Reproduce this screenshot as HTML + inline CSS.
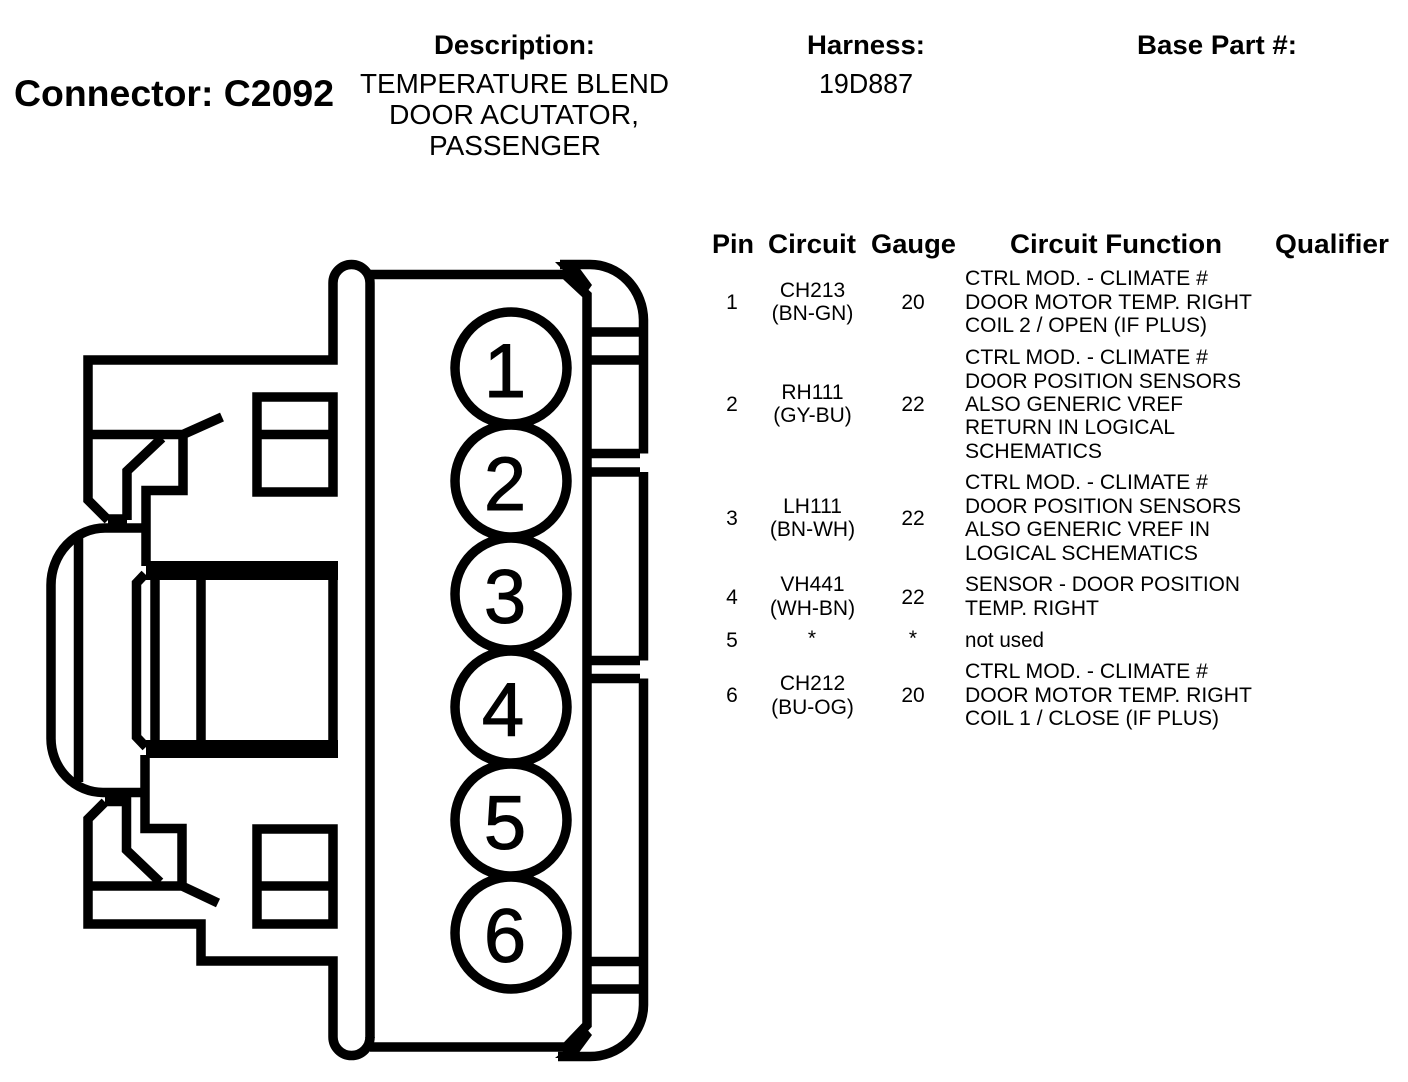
<!DOCTYPE html>
<html><head><meta charset="utf-8"><style>
html,body{margin:0;padding:0;background:#fff}
svg{display:block}
text{font-family:"Liberation Sans",sans-serif;fill:#000}
.h{font-weight:bold;font-size:27px}
.d{font-size:28px}
.t{font-size:21px}
.m{text-anchor:middle}
.n{font-size:76px;text-anchor:middle;stroke:#000;stroke-width:1}
</style></head><body>
<svg width="1408" height="1082" viewBox="0 0 1408 1082" xmlns="http://www.w3.org/2000/svg">
<rect width="1408" height="1082" fill="#fff"/>
<text x="14" y="106" font-size="37" font-weight="bold" textLength="320" lengthAdjust="spacingAndGlyphs">Connector: C2092</text>
<text class="h" x="434" y="54" textLength="161" lengthAdjust="spacingAndGlyphs">Description:</text>
<text class="h" x="807" y="54" textLength="118" lengthAdjust="spacingAndGlyphs">Harness:</text>
<text class="h" x="1137" y="54" textLength="160" lengthAdjust="spacingAndGlyphs">Base Part #:</text>
<text class="d" x="360" y="93" textLength="309" lengthAdjust="spacingAndGlyphs">TEMPERATURE BLEND</text>
<text class="d" x="389" y="124" textLength="250" lengthAdjust="spacingAndGlyphs">DOOR ACUTATOR,</text>
<text class="d" x="429" y="155" textLength="172" lengthAdjust="spacingAndGlyphs">PASSENGER</text>
<text class="d" x="819" y="93" textLength="94" lengthAdjust="spacingAndGlyphs">19D887</text>

<text class="h" x="712" y="253" textLength="42" lengthAdjust="spacingAndGlyphs">Pin</text>
<text class="h" x="768" y="253" textLength="88" lengthAdjust="spacingAndGlyphs">Circuit</text>
<text class="h" x="871" y="253" textLength="85" lengthAdjust="spacingAndGlyphs">Gauge</text>
<text class="h" x="1010" y="253" textLength="212" lengthAdjust="spacingAndGlyphs">Circuit Function</text>
<text class="h" x="1275" y="253" textLength="114" lengthAdjust="spacingAndGlyphs">Qualifier</text>

<text class="t m" x="732" y="309">1</text>
<text class="t m" x="812.500" y="297">CH213</text>
<text class="t m" x="812.500" y="320">(BN-GN)</text>
<text class="t m" x="913" y="309">20</text>
<text class="t" x="965" y="285" textLength="243" lengthAdjust="spacingAndGlyphs">CTRL MOD. - CLIMATE #</text>
<text class="t" x="965" y="309" textLength="287" lengthAdjust="spacingAndGlyphs">DOOR MOTOR TEMP. RIGHT</text>
<text class="t" x="965" y="332" textLength="242" lengthAdjust="spacingAndGlyphs">COIL 2 / OPEN (IF PLUS)</text>

<text class="t m" x="732" y="411">2</text>
<text class="t m" x="812.500" y="399">RH111</text>
<text class="t m" x="812.500" y="422">(GY-BU)</text>
<text class="t m" x="913" y="411">22</text>
<text class="t" x="965" y="364" textLength="243" lengthAdjust="spacingAndGlyphs">CTRL MOD. - CLIMATE #</text>
<text class="t" x="965" y="388" textLength="276" lengthAdjust="spacingAndGlyphs">DOOR POSITION SENSORS</text>
<text class="t" x="965" y="411" textLength="218" lengthAdjust="spacingAndGlyphs">ALSO GENERIC VREF</text>
<text class="t" x="965" y="434" textLength="210" lengthAdjust="spacingAndGlyphs">RETURN IN LOGICAL</text>
<text class="t" x="965" y="458" textLength="137" lengthAdjust="spacingAndGlyphs">SCHEMATICS</text>

<text class="t m" x="732" y="525">3</text>
<text class="t m" x="812.500" y="513">LH111</text>
<text class="t m" x="812.500" y="536">(BN-WH)</text>
<text class="t m" x="913" y="525">22</text>
<text class="t" x="965" y="489" textLength="243" lengthAdjust="spacingAndGlyphs">CTRL MOD. - CLIMATE #</text>
<text class="t" x="965" y="513" textLength="276" lengthAdjust="spacingAndGlyphs">DOOR POSITION SENSORS</text>
<text class="t" x="965" y="536" textLength="245" lengthAdjust="spacingAndGlyphs">ALSO GENERIC VREF IN</text>
<text class="t" x="965" y="560" textLength="233" lengthAdjust="spacingAndGlyphs">LOGICAL SCHEMATICS</text>

<text class="t m" x="732" y="604">4</text>
<text class="t m" x="812.500" y="591">VH441</text>
<text class="t m" x="812.500" y="615">(WH-BN)</text>
<text class="t m" x="913" y="604">22</text>
<text class="t" x="965" y="591" textLength="275" lengthAdjust="spacingAndGlyphs">SENSOR - DOOR POSITION</text>
<text class="t" x="965" y="615" textLength="134" lengthAdjust="spacingAndGlyphs">TEMP. RIGHT</text>

<text class="t m" x="732" y="647">5</text>
<text class="t m" x="812" y="645">*</text>
<text class="t m" x="913" y="645">*</text>
<text class="t" x="965" y="647" textLength="79" lengthAdjust="spacingAndGlyphs">not used</text>

<text class="t m" x="732" y="702">6</text>
<text class="t m" x="812.500" y="690">CH212</text>
<text class="t m" x="812.500" y="714">(BU-OG)</text>
<text class="t m" x="913" y="702">20</text>
<text class="t" x="965" y="678" textLength="243" lengthAdjust="spacingAndGlyphs">CTRL MOD. - CLIMATE #</text>
<text class="t" x="965" y="702" textLength="287" lengthAdjust="spacingAndGlyphs">DOOR MOTOR TEMP. RIGHT</text>
<text class="t" x="965" y="725" textLength="254" lengthAdjust="spacingAndGlyphs">COIL 1 / CLOSE (IF PLUS)</text>

<g fill="none" stroke="#000" stroke-width="9.500" stroke-linejoin="miter">
<!-- top left outline -->
<path d="M108 520L88 500V360H333V283A18.500 18.500 0 0 1 370 283V1038"/>
<path d="M88 434.500H183M222 417L183 434.500V490.500H146V566"/>
<path d="M162 438L127 471V520M108 519H127"/>
<path d="M146 528H105A54 57 0 0 0 51 585V738A52 54 0 0 0 103 792.500H146"/>
<path d="M78.500 537V782"/>
<path d="M145 574L136.500 583V737L146 747"/>
<path d="M155 575V745M201 575V745M333 566V753"/>
<!-- bottom left outline -->
<path d="M145 755V828.500H182V886M88 886H182M218 903L182 886M160 882L126.500 850V797M105 801.500H127M105 802L88 819V924H201V961H333V1037A18.500 18.500 0 0 0 370 1037"/>
<!-- windows -->
<rect x="257" y="397" width="76" height="95"/>
<path d="M257 434.500H333"/>
<rect x="257" y="829" width="76" height="95"/>
<path d="M257 886H333"/>
<!-- body -->
<path d="M370 274.500H565L587 295V1025L566 1047H370"/>
<path d="M560 264.500H590A53.500 56 0 0 1 643.500 320V453.500"/>
<path d="M587 332H643M587 360H643M587 453.500H640M587 472H640M587 660.500H640M587 678.500H640M587 961.500H643M587 989H643"/>
<path d="M643.500 472V660.500M643.500 678.500V1005A53.500 51.500 0 0 1 590 1056.500H558"/>
<!-- circles -->
<circle cx="511" cy="368" r="56"/>
<circle cx="511" cy="481" r="56"/>
<circle cx="511" cy="594" r="56"/>
<circle cx="511" cy="707" r="56"/>
<circle cx="511" cy="820" r="56"/>
<circle cx="511" cy="933" r="56"/>
</g>
<path d="M146 561H338V580H146ZM146 740H338V758H146Z" fill="#000"/>
<path d="M555 262L575 262L592 285L585 295L565 272Z M555 1058L575 1058L592 1035L585 1027L565 1050Z" fill="#000"/>
<text class="n" x="505" y="397">1</text>
<text class="n" x="505" y="510">2</text>
<text class="n" x="505" y="623">3</text>
<text class="n" x="503" y="736">4</text>
<text class="n" x="505" y="849">5</text>
<text class="n" x="505" y="962">6</text>
</svg>
</body></html>
